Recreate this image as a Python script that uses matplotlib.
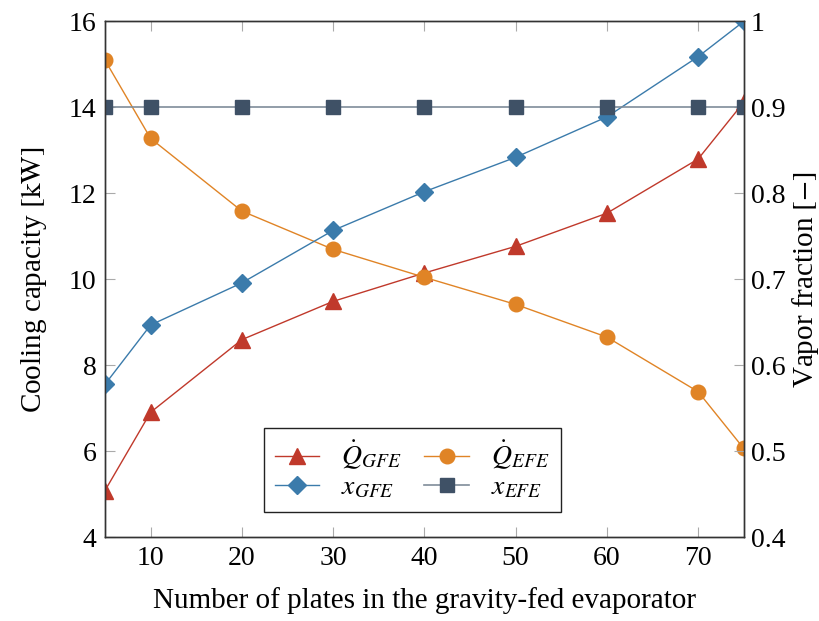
import matplotlib
matplotlib.use("Agg")
import matplotlib.pyplot as plt

# ===============================
# Data
# ===============================
plates = [5, 10, 20, 30, 40, 50, 60, 70, 75]
q_gfe = [5.09, 6.91, 8.60, 9.49, 10.15, 10.77, 11.54, 12.80, 14.12]
q_efe = [15.10, 13.28, 11.59, 10.70, 10.05, 9.42, 8.66, 7.39, 6.07]
x_gfe = [0.578, 0.647, 0.696, 0.757, 0.802, 0.842, 0.889, 0.959, 1.0]
x_efe = [0.9, 0.9, 0.9, 0.9, 0.9, 0.9, 0.9, 0.9, 0.9]

plt.rcParams['font.family'] = ['Liberation Serif', 'DejaVu Serif']
plt.rcParams['mathtext.fontset'] = 'stix'
plt.rcParams['font.size'] = 20

red = '#c0392b'
orange = '#e08426'
blue = '#3b7bab'
slate = '#3f5166'

fig = plt.figure(figsize=(8.2, 6.21), dpi=100)
ax = fig.add_axes([0.128, 0.1345, 0.779, 0.831])
ax2 = ax.twinx()

l1, = ax.plot(plates, q_gfe, color=red, lw=1, marker='^', ms=12, label=r'$\dot{Q}_{GFE}$')
l2, = ax.plot(plates, q_efe, color=orange, lw=1, marker='o', ms=10.5, label=r'$\dot{Q}_{EFE}$')
l3, = ax2.plot(plates, x_gfe, color=blue, lw=1, marker='D', ms=9, label=r'$x_{GFE}$')
l4, = ax2.plot(plates, x_efe, color='#7f8c99', lw=1.2, marker='s', ms=10,
               markerfacecolor=slate, markeredgecolor=slate, label=r'$x_{EFE}$')

ax.set_xlim(5, 75)
ax.set_ylim(4, 16)
ax2.set_ylim(0.4, 1.0)
ax.set_xticks([10, 20, 30, 40, 50, 60, 70])
ax.set_yticks([4, 6, 8, 10, 12, 14, 16])
ax2.set_yticks([0.4, 0.5, 0.6, 0.7, 0.8, 0.9, 1.0])
ax2.set_yticklabels(['0.4', '0.5', '0.6', '0.7', '0.8', '0.9', '1'])

ax.tick_params(axis='x', direction='in', top=True, length=7, color='#aaaaaa', pad=6)
ax.tick_params(axis='y', direction='in', length=7, color='#aaaaaa', pad=6)
ax2.tick_params(axis='y', direction='in', length=7, color='#aaaaaa', pad=5)

for a in (ax, ax2):
    for s in a.spines.values():
        s.set_color('#333333')
        s.set_linewidth(1)

ax.set_xlabel('Number of plates in the gravity-fed evaporator', fontsize=21, labelpad=12)
ax.set_ylabel(r'Cooling capacity $[\mathrm{kW}]$', fontsize=21, labelpad=14)
ax2.set_ylabel(r'Vapor fraction $[-]$', fontsize=21)
ax2.yaxis.set_label_coords(1.072, 0.5)

# column-first fill -> order so rows read Q_GFE, Q_EFE / x_GFE, x_EFE
handles = [l1, l3, l2, l4]
leg = ax2.legend(handles, [h.get_label() for h in handles],
                 ncol=2, loc='lower center', bbox_to_anchor=(0.481, 0.05),
                 borderaxespad=0, fancybox=False, framealpha=1, edgecolor='#222222',
                 fontsize=20, handlelength=1.6, columnspacing=0.8,
                 labelspacing=0.1, borderpad=0.4, handletextpad=0.8)
leg.get_frame().set_linewidth(1)

fig.savefig('out.png', dpi=100)
